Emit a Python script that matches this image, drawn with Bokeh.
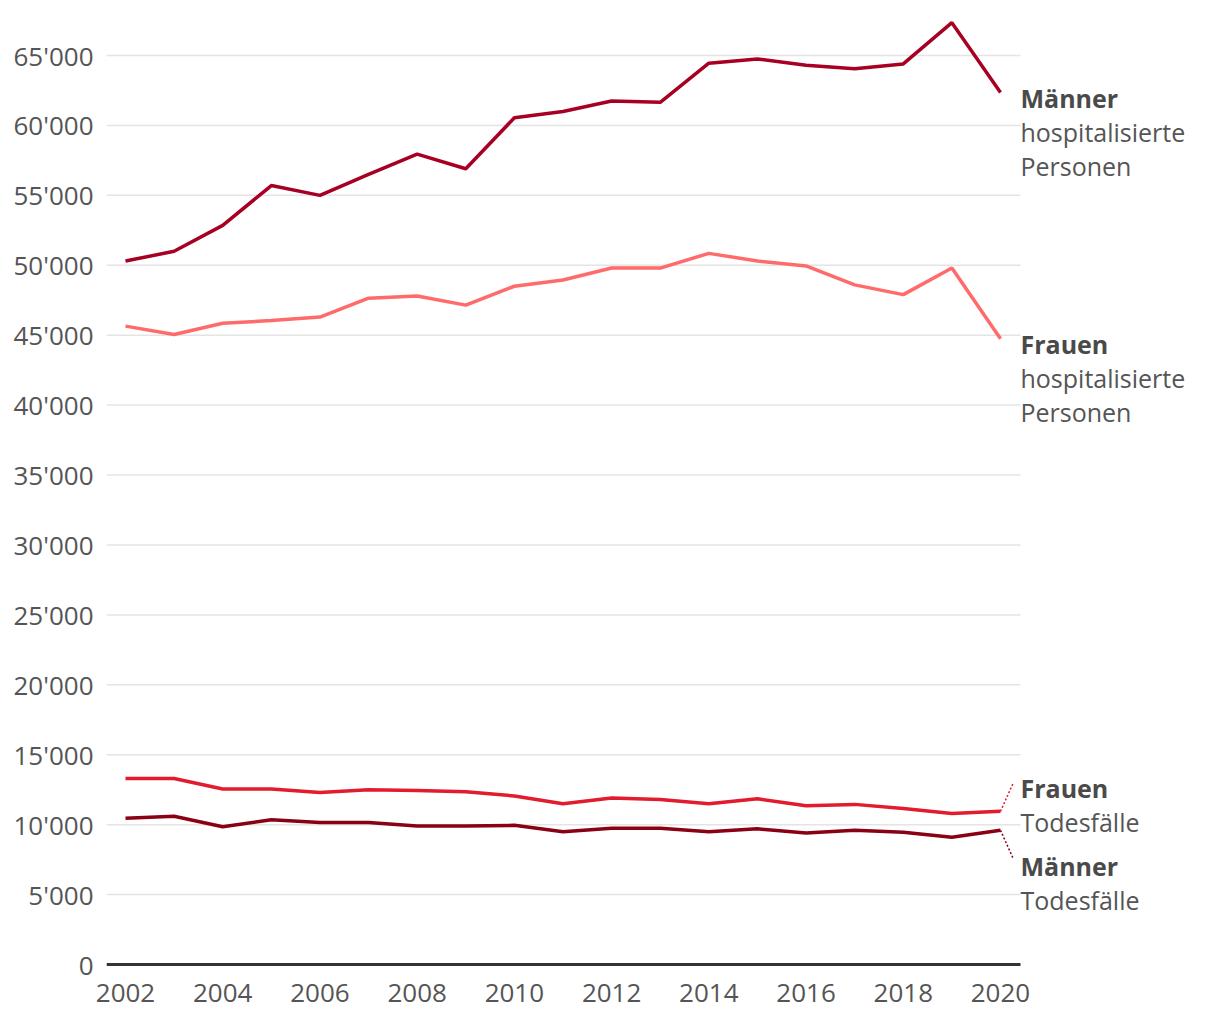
from bokeh.plotting import figure
from bokeh.models import Range1d, FixedTicker
from bokeh.core.properties import value
from bokeh.embed import file_html
from bokeh.resources import INLINE

years = list(range(2002, 2021))
maenner_hosp = [50300, 51000, 52850, 55700, 55000, 56500, 57950, 56900, 60550, 61000,
                61750, 61650, 64450, 64750, 64300, 64050, 64400, 67350, 62350]
frauen_hosp = [45650, 45050, 45850, 46050, 46300, 47650, 47800, 47150, 48500, 48950,
               49800, 49800, 50850, 50300, 49950, 48600, 47900, 49800, 44750]
frauen_tod = [13300, 13300, 12550, 12550, 12300, 12500, 12450, 12350, 12050, 11500,
              11900, 11800, 11500, 11850, 11350, 11450, 11150, 10800, 10950]
maenner_tod = [10450, 10600, 9850, 10350, 10150, 10150, 9900, 9900, 9950, 9500,
               9750, 9750, 9500, 9700, 9400, 9600, 9450, 9100, 9600]

y_ticks = list(range(0, 65001, 5000))
x_ticks = list(range(2002, 2021, 2))

FONT = "Open Sans"
TXT = "#555555"
BOLD = "#4a4a4a"
FS = "26px"
LFS = "25px"

W, H = 1212, 1012
ML, MR, MT, MB = 106, 0, 8, 44
fw = W - ML - MR
fh = H - MT - MB

# scales (pixels per unit)
kx = 48.611          # px per year
ky = 909 / 65000     # px per person
x0 = 2002 - 19 / kx
x1 = x0 + fw / kx
y0 = -4 / ky
y1 = y0 + fh / ky
dx = 1 / kx
dy = 1 / ky
x_grid_end = years[-1] + 20 * dx

p = figure(width=W, height=H, output_backend="svg", toolbar_location=None,
           x_range=Range1d(x0, x1), y_range=Range1d(y0, y1),
           min_border_left=ML, min_border_right=MR, min_border_top=MT, min_border_bottom=MB)
p.outline_line_color = None
p.background_fill_color = "white"
p.border_fill_color = "white"
p.xgrid.grid_line_color = None
p.ygrid.grid_line_color = None

p.yaxis.ticker = FixedTicker(ticks=y_ticks)
p.yaxis.major_label_overrides = {v: f"{v:,}".replace(",", "'") for v in y_ticks}
p.yaxis.axis_line_color = None
p.yaxis.major_tick_line_color = None
p.yaxis.minor_tick_line_color = None
p.yaxis.major_tick_out = 0
p.yaxis.major_label_standoff = 13
p.yaxis.major_label_text_font = FONT
p.yaxis.major_label_text_font_size = FS
p.yaxis.major_label_text_color = TXT

p.xaxis.ticker = FixedTicker(ticks=x_ticks)
p.xaxis.axis_line_color = None
p.xaxis.major_tick_line_color = None
p.xaxis.minor_tick_line_color = None
p.xaxis.major_tick_out = 0
p.xaxis.major_label_standoff = 15
p.xaxis.major_label_text_font = FONT
p.xaxis.major_label_text_font_size = FS
p.xaxis.major_label_text_color = TXT

# grid lines (ending at the right of the data area)
gt = y_ticks[1:]
p.segment(x0=[x0] * len(gt), y0=gt, x1=[x_grid_end] * len(gt), y1=gt,
          line_color="#e4e4e4", line_width=1.5)
# zero line
p.segment(x0=[x0], y0=[0], x1=[x_grid_end], y1=[0], line_color="#333333", line_width=3)

series = [
    (maenner_hosp, "#a80022"),
    (frauen_hosp, "#ff6b6b"),
    (frauen_tod, "#e31b2e"),
    (maenner_tod, "#8a0014"),
]
for vals, col in series:
    p.line(years, vals, line_color=col, line_width=3.5)

xe = years[-1]
p.line([xe, xe + 13 * dx], [frauen_tod[-1], frauen_tod[-1] + 29 * dy],
       line_color="#e31b2e", line_width=1.5, line_dash="2 2")
p.line([xe, xe + 13 * dx], [maenner_tod[-1], maenner_tod[-1] - 29 * dy],
       line_color="#8a0014", line_width=1.5, line_dash="2 2")

labels = [
    (maenner_hosp[-1], 5, "Männer", "hospitalisierte", "Personen"),
    (frauen_hosp[-1], 5, "Frauen", "hospitalisierte", "Personen"),
    (frauen_tod[-1], -23, "Frauen", "Todesfälle", None),
    (maenner_tod[-1], 36, "Männer", "Todesfälle", None),
]
for yv, off, b, l1, l2 in labels:
    lines = [(b, "bold", BOLD), (l1, "normal", TXT)]
    if l2:
        lines.append((l2, "normal", TXT))
    for i, (t, style, col) in enumerate(lines):
        p.text([xe + 20 * dx], [yv - (off + 34 * i) * dy], text=[t],
               text_font=value(FONT), text_font_size=LFS, text_font_style=style,
               text_color=col, text_baseline="middle", text_align="left")

open("out.html", "w").write(file_html(p, INLINE))
